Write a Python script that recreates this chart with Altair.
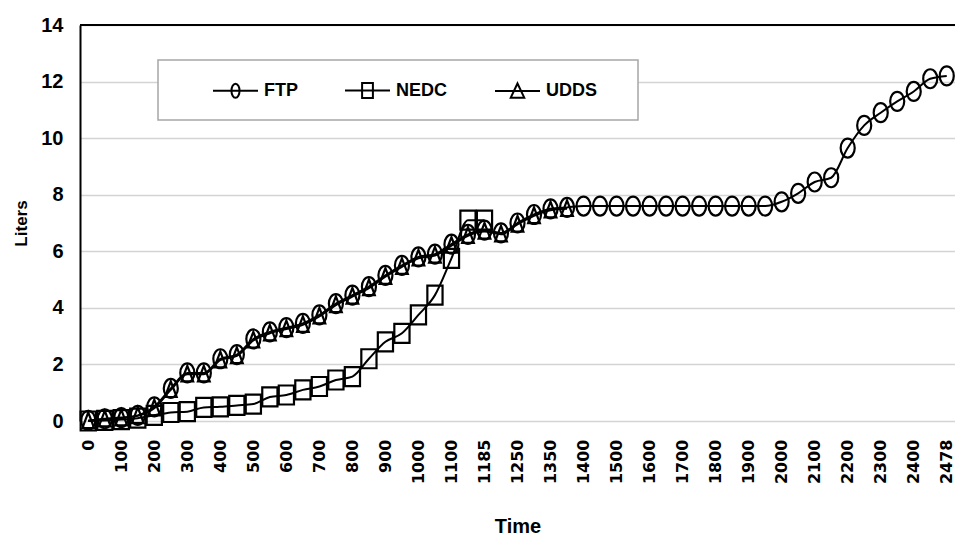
import altair as alt
import pandas as pd

# Category axis (time, s)
cats = ["0", "50", "100", "150", "200", "250", "300", "350", "400", "450", "500",
        "550", "600", "650", "700", "750", "800", "850", "900", "950", "1000",
        "1050", "1100", "1150", "1185", "1200", "1250", "1300", "1350", "1369",
        "1400", "1450", "1500", "1550", "1600", "1650", "1700", "1750", "1800",
        "1850", "1900", "1950", "2000", "2050", "2100", "2150", "2200", "2250",
        "2300", "2350", "2400", "2450", "2478"]
tick_labels = ["0", "100", "200", "300", "400", "500", "600", "700", "800", "900",
               "1000", "1100", "1185", "1250", "1350", "1400", "1500", "1600",
               "1700", "1800", "1900", "2000", "2100", "2200", "2300", "2400", "2478"]

ftp = [0.02, 0.08, 0.12, 0.2, 0.5, 1.15, 1.7, 1.7, 2.2, 2.35, 2.9, 3.15, 3.3, 3.45,
       3.75, 4.15, 4.45, 4.75, 5.15, 5.5, 5.8, 5.9, 6.25, 6.6, 6.75, 6.65, 7.0, 7.3,
       7.5, 7.55, 7.6, 7.6, 7.6, 7.6, 7.6, 7.6, 7.6, 7.6, 7.6, 7.6, 7.6, 7.6, 7.75,
       8.05, 8.45, 8.6, 9.65, 10.45, 10.9, 11.3, 11.65, 12.1, 12.2]
nedc = [0.0, 0.02, 0.05, 0.1, 0.2, 0.3, 0.33, 0.48, 0.5, 0.55, 0.6, 0.85, 0.92, 1.1,
        1.22, 1.45, 1.57, 2.2, 2.8, 3.1, 3.75, 4.45, 5.75, 7.1, 7.1]
udds = [0.0, 0.06, 0.1, 0.18, 0.45, 1.1, 1.65, 1.65, 2.15, 2.3, 2.85, 3.1, 3.25, 3.4,
        3.7, 4.1, 4.4, 4.7, 5.1, 5.45, 5.75, 5.85, 6.2, 6.55, 6.7, 6.6, 6.95, 7.25,
        7.45, 7.5]

series_names = ["FTP", "NEDC", "UDDS"]

rows = []
for name, vals in zip(series_names, [ftp, nedc, udds]):
    for i, v in enumerate(vals):
        rows.append({"Series": name, "Time": cats[i], "Liters": v, "order": i})
df = pd.DataFrame(rows)

# marker shapes (slightly tall, as in the reference)
pt_paths = [
    "M-0.74,0A0.74,1,0,1,1,0.74,0A0.74,1,0,1,1,-0.74,0Z",
    "M-0.8,-1L0.8,-1L0.8,1L-0.8,1Z",
    "M0,-0.9L0.62,0.75L-0.62,0.75Z",
]
leg_paths = [
    "M-1,0L1,0M-0.18,0A0.18,0.31,0,1,1,0.18,0A0.18,0.31,0,1,1,-0.18,0Z",
    "M-1,0L1,0M-0.24,-0.33L0.24,-0.33L0.24,0.33L-0.24,0.33Z",
    "M-1,0L1,0M0,-0.33L0.3,0.3L-0.3,0.3Z",
]

FONT = "Liberation Sans"
XFONT = "DejaVu Sans"

x_enc = alt.X("Time:O", sort=cats,
              scale=alt.Scale(type="point", padding=0.5),
              axis=alt.Axis(values=tick_labels, labelAngle=270, labelAlign="right",
                            labelBaseline="middle", labelFont=XFONT, labelFontSize=16,
                            labelFontWeight="bold", labelColor="black", labelPadding=18,
                            ticks=False, domain=False, grid=False, title="Time",
                            titleFont=FONT, titleFontSize=20, titleFontWeight="bold",
                            titleColor="black", titlePadding=33))
y_enc = alt.Y("Liters:Q", scale=alt.Scale(domain=[0, 14], nice=False),
              axis=alt.Axis(values=[0, 2, 4, 6, 8, 10, 12, 14], grid=True,
                            gridColor="#d4d4d4", gridWidth=1.5, domainColor="black",
                            domainWidth=2, ticks=False, labelFont=FONT, labelFontSize=20,
                            labelFontWeight="bold", labelColor="black", labelPadding=17,
                            title="Liters", titleFont=FONT, titleFontSize=17,
                            titleFontWeight="bold", titleColor="black", titlePadding=10))

base = alt.Chart(df)

legend_box = alt.Chart(pd.DataFrame({"a": [0]})).mark_rect(
    fill="white", stroke="#a6a6a6", strokeWidth=1.5
).encode(x=alt.value(78), x2=alt.value(558), y=alt.value(35), y2=alt.value(95))

top_rule = alt.Chart(pd.DataFrame({"a": [0]})).mark_rule(
    color="black", strokeWidth=2
).encode(y=alt.datum(14))

lines = base.mark_line(color="black", strokeWidth=2, interpolate="monotone").encode(
    x=x_enc, y=y_enc, detail="Series:N", order="order:Q")

points = base.mark_point(filled=False, color="black", strokeWidth=2.2, size=361,
                         opacity=1).encode(
    x=alt.X("Time:O", sort=cats),
    y=alt.Y("Liters:Q"),
    shape=alt.Shape("Series:N", scale=alt.Scale(domain=series_names, range=pt_paths),
                    legend=None))

legend_layer = base.transform_filter("false").mark_point(
    filled=False, color="black", strokeWidth=2, size=2025, opacity=1
).encode(
    x=alt.X("Time:O", sort=cats),
    y=alt.Y("Liters:Q"),
    shape=alt.Shape("Series:N", scale=alt.Scale(domain=series_names, range=leg_paths),
                    legend=alt.Legend(orient="none", legendX=132, legendY=42,
                                      direction="horizontal", title=None,
                                      symbolSize=2025, symbolStrokeWidth=2,
                                      symbolStrokeColor="black", symbolOpacity=1,
                                      labelFont=FONT, labelFontSize=18,
                                      labelFontWeight="bold", labelColor="black",
                                      labelOffset=5, columnPadding=43, padding=0)))

chart = alt.layer(legend_box, top_rule, lines, points, legend_layer).resolve_scale(
    shape="independent"
).properties(
    width=875, height=396,
    autosize=alt.AutoSizeParams(type="none"),
    padding={"left": 80, "top": 25, "right": 0, "bottom": 119},
    background="white",
).configure_view(stroke=None)

chart.save("out.html", embed_options={"renderer": "svg", "actions": False})
